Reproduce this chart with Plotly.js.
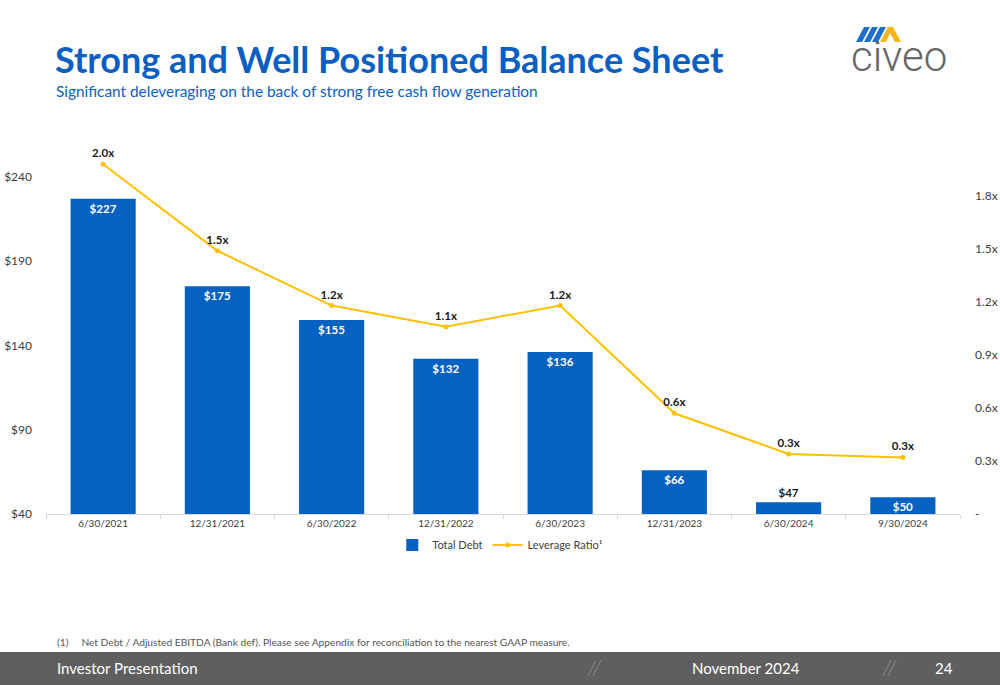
<!DOCTYPE html>
<html>
<head>
<meta charset="utf-8">
<script src="https://cdn.plot.ly/plotly-3.0.1.min.js"></script>
<style>
html,body{margin:0;padding:0;background:#fff;}
#chart{width:1000px;height:685px;}
</style>
</head>
<body>
<div id="chart"></div>
<script>
// ---- data ----
const periods = ["6/30/2021","12/31/2021","6/30/2022","12/31/2022","6/30/2023","12/31/2023","6/30/2024","9/30/2024"];
const totalDebt = [227,175,155,132,136,66,47,50];
const debtLabels = ["$227","$175","$155","$132","$136","$66","$47","$50"];
const leverage = [1.98,1.49,1.18,1.06,1.18,0.57,0.34,0.32];
const leverageLabels = ["2.0x","1.5x","1.2x","1.1x","1.2x","0.6x","0.3x","0.3x"];
const leftTicks = [40,90,140,190,240];
const leftTickText = ["$40","$90","$140","$190","$240"];
const rightTicks = [0,0.3,0.6,0.9,1.2,1.5,1.8];
const rightTickText = ["-","0.3x","0.6x","0.9x","1.2x","1.5x","1.8x"];

// ---- layout helpers (pixel -> paper) ----
const L=46,R=960,T=143,B=514;
const px = x => (x-L)/(R-L);
const py = y => (B-y)/(B-T);

const blue = "#0661c0";
const gold = "#ffc000";
const font = "Lato, 'Open Sans', sans-serif";

const barTextColors = debtLabels.map((_,i)=> i===6 ? "#1a1a1a" : "#ffffff");
const barTextPos = debtLabels.map((_,i)=> i===6 ? "outside" : "inside");

const traces = [
 {type:"bar", name:"Total Debt", x:periods, y:totalDebt, text:debtLabels,
  textposition:barTextPos, insidetextanchor:"end", cliponaxis:false,
  textfont:{family:font, size:11.5, color:barTextColors, weight:"bold"},
  marker:{color:blue}, width:0.57, hoverinfo:"skip"},
 {type:"scatter", mode:"lines+markers+text", name:"Leverage Ratio¹", x:periods, y:leverage,
  yaxis:"y2", text:leverageLabels, textposition:"top center", cliponaxis:false,
  textfont:{family:font, size:11.5, color:"#1a1a1a", weight:"bold"},
  line:{color:gold, width:2}, marker:{color:gold, size:5}, hoverinfo:"skip"}
];

function seg(x0,y0,x1,y1,x2,y2,x3,y3){
  return `M ${px(x0)} ${py(y0)} L ${px(x1)} ${py(y1)} L ${px(x2)} ${py(y2)} L ${px(x3)} ${py(y3)} Z`;
}

const shapes = [
 // footer band
 {type:"rect", xref:"paper", yref:"paper", x0:px(0), x1:px(1000), y0:py(652), y1:py(686), fillcolor:"#5f5f5f", line:{width:0}, layer:"below"},
 // logo stripes
 {type:"path", xref:"paper", yref:"paper", path:seg(856,42,862,42,870,27,864,27), fillcolor:"#1e6fc9", line:{width:0}},
 {type:"path", xref:"paper", yref:"paper", path:seg(864,42,870,42,878,27,872,27), fillcolor:"#1e6fc9", line:{width:0}},
 {type:"path", xref:"paper", yref:"paper", path:seg(872,42,878,42,886,27,880,27), fillcolor:"#1e6fc9", line:{width:0}},
 {type:"path", xref:"paper", yref:"paper", path:`M ${px(880)} ${py(42)} L ${px(888)} ${py(27)} L ${px(893)} ${py(27)} L ${px(901)} ${py(42)} L ${px(895)} ${py(42)} L ${px(890)} ${py(33)} L ${px(886)} ${py(42)} Z`, fillcolor:"#f7b51c", line:{width:0}},
 // footer slashes
 {type:"line", xref:"paper", yref:"paper", x0:px(588), y0:py(676), x1:px(596), y1:py(660), line:{color:"#8a8a8a", width:1}},
 {type:"line", xref:"paper", yref:"paper", x0:px(593), y0:py(676), x1:px(601), y1:py(660), line:{color:"#8a8a8a", width:1}},
 {type:"line", xref:"paper", yref:"paper", x0:px(883), y0:py(676), x1:px(891), y1:py(660), line:{color:"#8a8a8a", width:1}},
 {type:"line", xref:"paper", yref:"paper", x0:px(888), y0:py(676), x1:px(896), y1:py(660), line:{color:"#8a8a8a", width:1}}
];

const ann = (text,x,y,size,color,opts={}) => Object.assign({text, xref:"paper", yref:"paper", x:px(x), y:py(y),
  xanchor:"left", yanchor:"middle", showarrow:false, font:{family:font, size, color}}, opts);

const annotations = [
 ann("<b>Strong and Well Positioned Balance Sheet</b>", 53, 59, 36, "#0b5fc2"),
 ann("Significant deleveraging on the back of strong free cash flow generation", 54, 91, 15.4, "#0b5fc2"),
 ann("civeo", 849, 57, 42, "#666666", {font:{family:"Roboto, sans-serif", size:42, color:"#666666", weight:300}}),
 ann("(1)&nbsp;&nbsp;&nbsp;&nbsp;&nbsp;Net Debt / Adjusted EBITDA (Bank def). Please see Appendix for reconciliation to the nearest GAAP measure.", 55, 642, 10.2, "#555555"),
 ann("Investor Presentation", 55, 668, 15, "#ffffff"),
 ann("November 2024", 690, 668, 15, "#ffffff"),
 ann("24", 933, 668, 15, "#ffffff")
];

const layout = {
  width:1000, height:685,
  margin:{l:L, r:1000-R, t:T, b:685-B, pad:0},
  paper_bgcolor:"#ffffff", plot_bgcolor:"#ffffff",
  showlegend:true,
  legend:{orientation:"h", x:0.497, xanchor:"center", y:py(545), yanchor:"middle",
          font:{family:font, size:11, color:"#404040"}, itemwidth:30, tracegroupgap:0},
  bargap:0.43,
  xaxis:{type:"category", showgrid:false, showline:true, linecolor:"#d9d9d9", linewidth:1,
         ticks:"outside", tickson:"boundaries", ticklen:4, tickcolor:"#d9d9d9",
         tickfont:{family:font, size:10, color:"#404040"}, fixedrange:true},
  yaxis:{range:[40,260], tickvals:leftTicks, ticktext:leftTickText, showgrid:false, zeroline:false,
         showline:false, ticks:"", ticklabelstandoff:13,
         tickfont:{family:font, size:12, color:"#404040"}, fixedrange:true},
  yaxis2:{range:[0,2.1], overlaying:"y", side:"right", tickvals:rightTicks, ticktext:rightTickText,
          showgrid:false, zeroline:false, showline:false, ticks:"", ticklabelstandoff:14,
          tickfont:{family:font, size:12, color:"#404040"}, fixedrange:true},
  shapes, annotations
};

Plotly.newPlot("chart", traces, layout, {displayModeBar:false, staticPlot:true});
</script>
</body>
</html>
